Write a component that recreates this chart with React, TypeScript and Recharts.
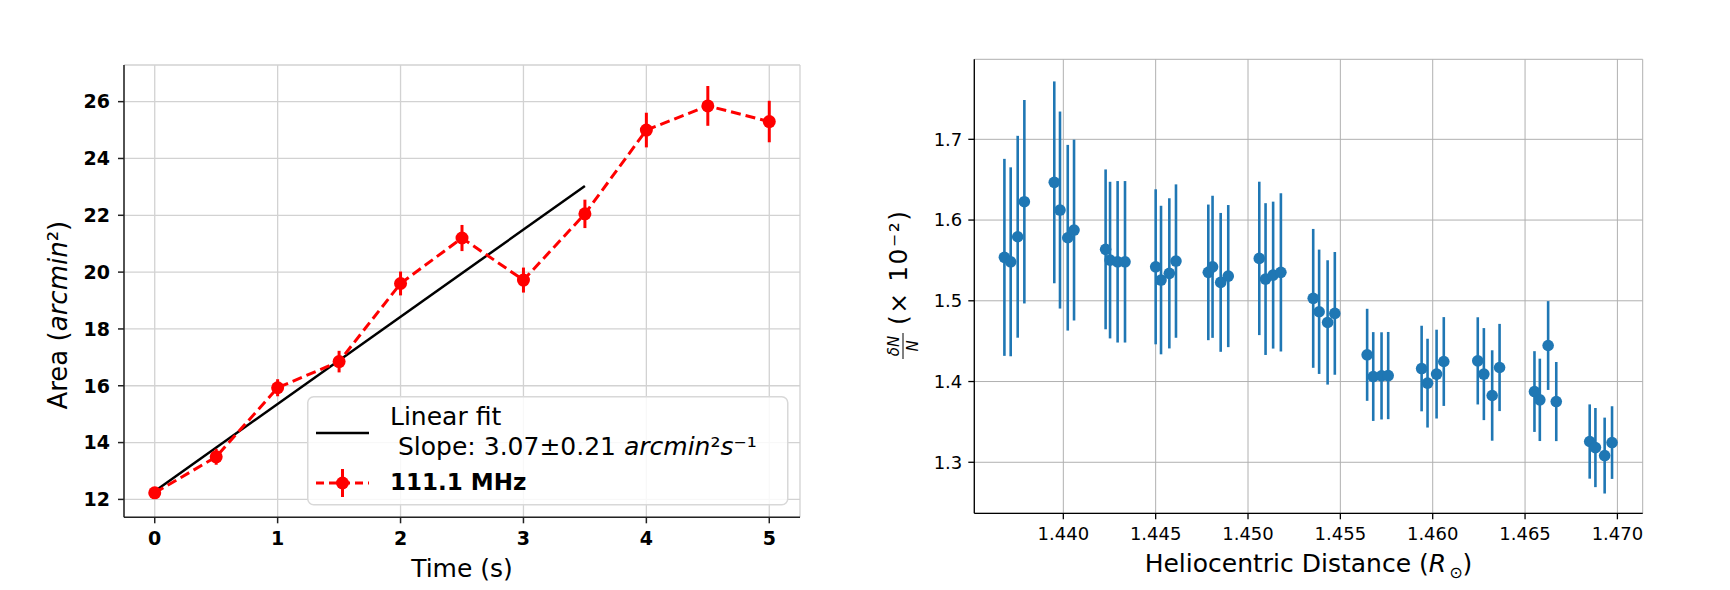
import React from 'react';
import { LineChart, Line, ScatterChart, Scatter, XAxis, YAxis, CartesianGrid, ErrorBar, Legend, Label } from 'recharts';

const FONT = 'DejaVu Sans, sans-serif';

// left panel: source area against time
const TIME = [0, 0.5, 1, 1.5, 2, 2.5, 3, 3.5, 4, 4.5, 5];
const AREA = [12.23, 13.5, 15.93, 16.85, 19.6, 21.2, 19.72, 22.05, 25.0, 25.85, 25.3];
const AREA_ERR = [0.2, 0.28, 0.3, 0.38, 0.42, 0.46, 0.44, 0.5, 0.61, 0.7, 0.73];
const FIT_TIME = [0, 3.5];
const FIT_AREA = [12.29, 23.03];
const TIME_TICKS = [0, 1, 2, 3, 4, 5];
const AREA_TICKS = [12, 14, 16, 18, 20, 22, 24, 26];

// right panel: density fluctuation against heliocentric distance
const RADIUS = [
  1.43681, 1.43715, 1.43753, 1.43789, 1.43951, 1.43982, 1.44024, 1.44058,
  1.44229, 1.44253, 1.44294, 1.44334, 1.445, 1.44529, 1.44574, 1.4461,
  1.44785, 1.44808, 1.44852, 1.44893, 1.45061, 1.45095, 1.45136, 1.45178,
  1.45353, 1.45385, 1.45431, 1.4547, 1.45645, 1.45678, 1.45723, 1.45759,
  1.4594, 1.45972, 1.46021, 1.4606, 1.46244, 1.46277, 1.46322, 1.46362,
  1.46551, 1.4658, 1.46625, 1.46669, 1.4685, 1.46881, 1.46931, 1.46971,
];
const DENSITY = [
  1.5538, 1.5483, 1.5793, 1.6227, 1.6467, 1.6124, 1.5781, 1.5876,
  1.5637, 1.5504, 1.5483, 1.5483, 1.5421, 1.5257, 1.534, 1.5492,
  1.5352, 1.5421, 1.5228, 1.5306, 1.5525, 1.5269, 1.5318, 1.5352,
  1.503, 1.4864, 1.4732, 1.4844, 1.4331, 1.4062, 1.407, 1.4074,
  1.4161, 1.398, 1.4092, 1.4248, 1.4256, 1.4092, 1.3827, 1.4174,
  1.3876, 1.3773, 1.4446, 1.3752, 1.3257, 1.3182, 1.3083, 1.3244,
];
const DENSITY_ERR = [
  0.122, 0.117, 0.125, 0.126, 0.125, 0.122, 0.115, 0.112,
  0.099, 0.097, 0.1, 0.1, 0.096, 0.092, 0.093, 0.095,
  0.084, 0.088, 0.086, 0.088, 0.095, 0.094, 0.091, 0.098,
  0.086, 0.077, 0.077, 0.076, 0.057, 0.055, 0.054, 0.054,
  0.053, 0.055, 0.055, 0.055, 0.054, 0.057, 0.056, 0.054,
  0.05, 0.051, 0.055, 0.049, 0.046, 0.049, 0.047, 0.045,
];
const RADIUS_TICKS = [1.44, 1.445, 1.45, 1.455, 1.46, 1.465, 1.47];
const DENSITY_TICKS = [1.3, 1.4, 1.5, 1.6, 1.7];

const RED = '#ff0000';
const BLUE = '#1f77b4';

const leftTick = { fontSize: 19, fontWeight: 'bold', fill: '#000', fontFamily: FONT };
const rightTick = { fontSize: 18, fill: '#000', fontFamily: FONT };

const FitLegend = () => (
  <svg width={482} height={110} style={{ display: 'block', overflow: 'visible' }} fontFamily={FONT}>
    <rect x={0.75} y={0.75} width={480} height={108} rx={6} fill="#fff" fillOpacity={0.85} stroke="#d8d8d8" strokeWidth={1.5} />
    <line x1={9} x2={62} y1={37} y2={37} stroke="#000" strokeWidth={2.5} />
    <text x={83} y={29} fontSize={25} fill="#000">Linear fit</text>
    <text x={91} y={59} fontSize={25} fill="#000">
      Slope: 3.07±0.21 <tspan fontStyle="italic">arcmin</tspan>²<tspan fontStyle="italic">s</tspan>⁻¹
    </text>
    <line x1={9} x2={62} y1={87} y2={87} stroke={RED} strokeWidth={3} strokeDasharray="8 5" />
    <line x1={35.5} x2={35.5} y1={73} y2={101} stroke={RED} strokeWidth={3} />
    <circle cx={35.5} cy={87} r={6.5} fill={RED} />
    <text x={83} y={94} fontSize={23} fontWeight="bold" fill="#000">111.1 MHz</text>
  </svg>
);

const AreaChart = () => {
  const points = TIME.map((t, i) => ({ t, area: AREA[i], err: AREA_ERR[i] }));
  const fit = FIT_TIME.map((t, i) => ({ t, area: FIT_AREA[i] }));
  const spine = { stroke: '#222', strokeWidth: 1.5 };

  return (
    <LineChart width={880} height={590} margin={{ top: 65, right: 80, bottom: 42.7, left: 64 }}>
      <CartesianGrid stroke="#d2d2d2" strokeWidth={1.3} />
      <XAxis dataKey="t" type="number" domain={[-0.25, 5.25]} ticks={TIME_TICKS} allowDataOverflow
        height={30} tickSize={6} tickMargin={8} axisLine={spine} tickLine={spine} tick={leftTick}>
        <Label content={(p: any) => (
          <text x={p.viewBox.x + p.viewBox.width / 2} y={p.viewBox.y + 59.4} textAnchor="middle"
            fontSize={25} fontFamily={FONT} fill="#000">Time (s)</text>
        )} />
      </XAxis>
      <YAxis dataKey="area" type="number" domain={[11.37, 27.29]} ticks={AREA_TICKS} allowDataOverflow
        width={60} tickSize={6} tickMargin={8} axisLine={spine} tickLine={spine} tick={leftTick}>
        <Label content={(p: any) => (
          <text transform={`translate(${p.viewBox.x + p.viewBox.width - 57.3},${p.viewBox.y + p.viewBox.height / 2 + 24}) rotate(-90)`}
            textAnchor="middle" fontSize={26} fontFamily={FONT} fill="#000">
            Area (<tspan fontStyle="italic">arcmin</tspan>²)
          </text>
        )} />
      </YAxis>
      <XAxis xAxisId="top" orientation="top" type="number" domain={[-0.25, 5.25]} allowDataOverflow
        height={0} tick={false} tickLine={false} axisLine={spine} />
      <YAxis yAxisId="right" orientation="right" type="number" domain={[11.37, 27.29]} allowDataOverflow
        width={0} tick={false} tickLine={false} axisLine={spine} />
      <Line data={fit} dataKey="area" stroke="#000" strokeWidth={2.5} dot={false} activeDot={false}
        isAnimationActive={false} />
      <Line data={points} dataKey="area" stroke={RED} strokeWidth={3} strokeDasharray="10 5"
        dot={{ r: 6.5, fill: RED, stroke: RED, strokeWidth: 0, strokeDasharray: '0' }} activeDot={false}
        isAnimationActive={false}>
        <ErrorBar dataKey="err" direction="y" width={0} stroke={RED} strokeWidth={3} isAnimationActive={false} />
      </Line>
      <Legend layout="horizontal" verticalAlign="middle" align="center"
        wrapperStyle={{ left: 307, top: 396, width: 482, height: 110 }} content={() => <FitLegend />} />
    </LineChart>
  );
};

// rotated y title of the right panel: fraction dN/N followed by the scale factor
const DensityTitle = () => (
  <svg width={60} height={590} style={{ position: 'absolute', left: 0, top: 0, overflow: 'visible' }}
    fontFamily={FONT} fill="#000">
    <text transform="translate(19,346) rotate(-90)" textAnchor="middle" fontSize={15} fontStyle="italic">δN</text>
    <line x1={23} x2={23} y1={333} y2={359} stroke="#000" strokeWidth={1} />
    <text transform="translate(38,346) rotate(-90)" textAnchor="middle" fontSize={15} fontStyle="italic">N</text>
    <text transform="translate(27,268) rotate(-90)" textAnchor="middle" fontSize={25}
      textLength={114} lengthAdjust="spacing">(× 10⁻²)</text>
  </svg>
);

const dotShape = (p: any) => <circle cx={p.cx} cy={p.cy} r={5.8} fill={BLUE} />;

const DensityChart = () => {
  const points = RADIUS.map((r, i) => ({ r, v: DENSITY[i], e: DENSITY_ERR[i] }));
  const spine = { stroke: '#000', strokeWidth: 1.3 };

  return (
    <ScatterChart width={850} height={590} margin={{ top: 59.3, right: 87.3, bottom: 46.7, left: 34.3 }}>
      <CartesianGrid stroke="#b0b0b0" strokeWidth={1} />
      <XAxis dataKey="r" type="number" domain={[1.43518, 1.47137]} ticks={RADIUS_TICKS} allowDataOverflow
        height={30} tickSize={6} tickMargin={8} axisLine={spine} tickLine={spine} tick={rightTick}
        tickFormatter={(v: number) => v.toFixed(3)}>
        <Label content={(p: any) => (
          <text x={p.viewBox.x + p.viewBox.width / 2} y={p.viewBox.y + 58.4}
            textAnchor="middle" fontSize={25} fontFamily={FONT} fill="#000">
            Heliocentric Distance (<tspan fontStyle="italic">R</tspan>
            <tspan fontSize={16} dx={3} dy={6}>⊙</tspan><tspan dy={-6}>)</tspan>
          </text>
        )} />
      </XAxis>
      <YAxis dataKey="v" type="number" domain={[1.2368, 1.7991]} ticks={DENSITY_TICKS} allowDataOverflow
        width={60} tickSize={6} tickMargin={6} axisLine={spine} tickLine={spine} tick={rightTick}
        tickFormatter={(v: number) => v.toFixed(1)} />
      <XAxis xAxisId="top" orientation="top" type="number" domain={[1.43518, 1.47137]} allowDataOverflow
        height={0} tick={false} tickLine={false} axisLine={spine} />
      <YAxis yAxisId="right" orientation="right" type="number" domain={[1.2368, 1.7991]} allowDataOverflow
        width={0} tick={false} tickLine={false} axisLine={spine} />
      <Scatter data={points} fill={BLUE} shape={dotShape} isAnimationActive={false}>
        <ErrorBar dataKey="e" direction="y" width={0} stroke={BLUE} strokeWidth={2.6} isAnimationActive={false} />
      </Scatter>
    </ScatterChart>
  );
};

export default function App() {
  return (
    <div style={{ position: 'absolute', left: 0, top: 0, width: 1730, height: 590, background: '#fff', fontFamily: FONT }}>
      <div style={{ position: 'absolute', left: 0, top: 0 }}>
        <AreaChart />
      </div>
      <div style={{ position: 'absolute', left: 880, top: 0 }}>
        <DensityChart />
        <DensityTitle />
      </div>
    </div>
  );
}
